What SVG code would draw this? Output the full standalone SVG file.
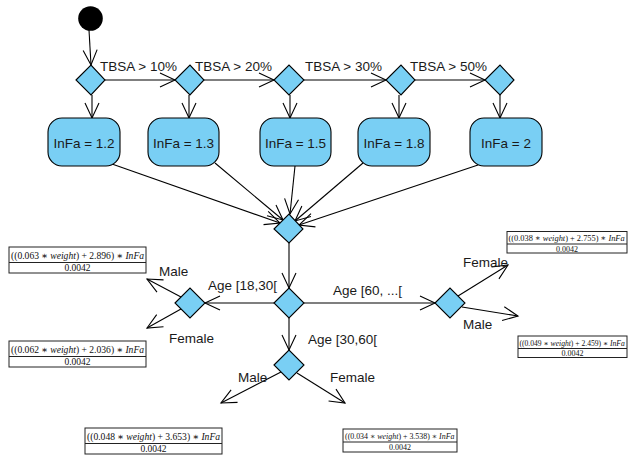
<svg xmlns="http://www.w3.org/2000/svg" width="628" height="455" viewBox="0 0 628 455">
<defs>
<marker id="arr" markerWidth="18" markerHeight="18" refX="15" refY="7" orient="auto" markerUnits="userSpaceOnUse" overflow="visible">
<path d="M0,0 L15,7 L0,14" fill="none" stroke="#000" stroke-width="1.1"/>
</marker>
<style>
.dia{fill:#79cff4;stroke:#000;stroke-width:1.1}
.box{fill:#79cff4;stroke:#000;stroke-width:1.1}
.lbl{font-family:"Liberation Sans",Arial,sans-serif;font-size:13.5px;fill:#1a1a1a}
.btxt{font-family:"Liberation Sans",Arial,sans-serif;font-size:13.5px;fill:#1a1a1a;text-anchor:middle}
.con line{stroke:#000;stroke-width:1.1;marker-end:url(#arr)}
.fbox{fill:#fff;stroke:#222;stroke-width:1}
.fdiv{stroke:#222;stroke-width:1}
.fnum{font-family:"Liberation Serif","DejaVu Serif",serif;fill:#111}
.fden{font-family:"Liberation Serif","DejaVu Serif",serif;fill:#111;text-anchor:middle}
.it{font-style:italic}
</style>
</defs>
<rect width="628" height="455" fill="#fff"/>

<g id="connectors" class="con">
<line x1="89" y1="30" x2="91" y2="65"/>
<line x1="105" y1="80" x2="175" y2="80"/>
<line x1="204" y1="80" x2="274" y2="80"/>
<line x1="304" y1="80" x2="386" y2="80"/>
<line x1="415" y1="80" x2="485" y2="80"/>
<line x1="92" y1="95" x2="92" y2="118"/>
<line x1="189" y1="95" x2="189" y2="118"/>
<line x1="290" y1="95" x2="290" y2="118"/>
<line x1="399" y1="95" x2="399" y2="118"/>
<line x1="500" y1="95" x2="500" y2="118"/>
<line x1="112" y1="164" x2="280" y2="223"/>
<line x1="215" y1="163" x2="283" y2="220"/>
<line x1="295" y1="166" x2="290" y2="214"/>
<line x1="363" y1="163" x2="295" y2="221"/>
<line x1="478" y1="165" x2="299" y2="225"/>
<line x1="289" y1="243" x2="289" y2="288"/>
<line x1="274" y1="303" x2="205" y2="303"/>
<line x1="304" y1="303" x2="435" y2="303"/>
<line x1="289" y1="318" x2="289" y2="350"/>
<line x1="181" y1="297" x2="147" y2="279"/>
<line x1="181" y1="309" x2="147" y2="328"/>
<line x1="458" y1="296" x2="508" y2="265"/>
<line x1="462" y1="307" x2="518" y2="316"/>
<line x1="281" y1="372" x2="221" y2="403"/>
<line x1="297" y1="373" x2="345" y2="403"/>
</g>

<g id="start"><circle cx="90.5" cy="18.5" r="12.3" fill="#000"/></g>

<g id="d1"><polygon class="dia" points="76,80 91,65 105,80 91,95"/></g>
<g id="d2"><polygon class="dia" points="175,80 190,65 204,80 190,95"/></g>
<g id="d3"><polygon class="dia" points="274,80 289,65 304,80 289,95"/></g>
<g id="d4"><polygon class="dia" points="386,80 401,65 415,80 401,95"/></g>
<g id="d5"><polygon class="dia" points="485,80 500,65 514,80 500,95"/></g>

<g id="lbl-tbsa">
<text class="lbl" x="100" y="71">TBSA &gt; 10%</text>
<text class="lbl" x="195" y="71">TBSA &gt; 20%</text>
<text class="lbl" x="305" y="71">TBSA &gt; 30%</text>
<text class="lbl" x="410" y="71">TBSA &gt; 50%</text>
</g>

<g id="b1"><rect class="box" x="48" y="118" width="72" height="48" rx="14"/><text class="btxt" x="84" y="148">InFa = 1.2</text></g>
<g id="b2"><rect class="box" x="148" y="118" width="71" height="48" rx="14"/><text class="btxt" x="183.5" y="148">InFa = 1.3</text></g>
<g id="b3"><rect class="box" x="260" y="118" width="71" height="48" rx="14"/><text class="btxt" x="295.5" y="148">InFa = 1.5</text></g>
<g id="b4"><rect class="box" x="358" y="118" width="72" height="48" rx="14"/><text class="btxt" x="394" y="148">InFa = 1.8</text></g>
<g id="b5"><rect class="box" x="470" y="118" width="72" height="48" rx="14"/><text class="btxt" x="506" y="148">InFa = 2</text></g>

<g id="merge"><polygon class="dia" points="274,229 289,214 303,229 289,243"/></g>
<g id="age"><polygon class="dia" points="274,303 289,288 304,303 289,318"/></g>
<g id="age1830"><polygon class="dia" points="175,303 190,288 205,303 190,318"/></g>
<g id="age60"><polygon class="dia" points="435,303 450,288 465,303 450,318"/></g>
<g id="age3060"><polygon class="dia" points="274,365 289,350 304,365 289,380"/></g>

<g id="lbl-age">
<text class="lbl" x="208" y="290">Age [18,30[</text>
<text class="lbl" x="333" y="295">Age [60, ...[</text>
<text class="lbl" x="308" y="344">Age [30,60[</text>
<text class="lbl" x="159" y="276">Male</text>
<text class="lbl" x="169" y="343">Female</text>
<text class="lbl" x="463" y="267">Female</text>
<text class="lbl" x="463" y="329">Male</text>
<text class="lbl" x="238" y="382">Male</text>
<text class="lbl" x="330" y="382">Female</text>
</g>

<g id="f1">
<rect class="fbox" x="9" y="247" width="137" height="26"/>
<line class="fdiv" x1="9" y1="262.5" x2="146" y2="262.5"/>
<text class="fnum" x="11" y="259" font-size="9.6">((0.063 ∗ <tspan class="it">weight</tspan>) + 2.896) ∗ <tspan class="it">InFa</tspan></text>
<text class="fden" x="77.5" y="271" font-size="9.5">0.0042</text>
</g>
<g id="f2">
<rect class="fbox" x="9" y="341" width="137" height="26"/>
<line class="fdiv" x1="9" y1="356.5" x2="146" y2="356.5"/>
<text class="fnum" x="11" y="353" font-size="9.6">((0.062 ∗ <tspan class="it">weight</tspan>) + 2.036) ∗ <tspan class="it">InFa</tspan></text>
<text class="fden" x="77.5" y="365" font-size="9.5">0.0042</text>
</g>
<g id="f3">
<rect class="fbox" x="507" y="231.5" width="120" height="21.5"/>
<line class="fdiv" x1="507" y1="244" x2="627" y2="244"/>
<text class="fnum" x="508.5" y="241" font-size="8.4">((0.038 ∗ <tspan class="it">weight</tspan>) + 2.755) ∗ <tspan class="it">InFa</tspan></text>
<text class="fden" x="567" y="251.5" font-size="8">0.0042</text>
</g>
<g id="f4">
<rect class="fbox" x="518" y="336" width="109" height="21.5"/>
<line class="fdiv" x1="518" y1="348.5" x2="627" y2="348.5"/>
<text class="fnum" x="519.5" y="345.5" font-size="7.6">((0.049 ∗ <tspan class="it">weight</tspan>) + 2.459) ∗ <tspan class="it">InFa</tspan></text>
<text class="fden" x="572.5" y="356" font-size="8">0.0042</text>
</g>
<g id="f5">
<rect class="fbox" x="85" y="428" width="137" height="26"/>
<line class="fdiv" x1="85" y1="443.5" x2="222" y2="443.5"/>
<text class="fnum" x="87" y="440" font-size="9.6">((0.048 ∗ <tspan class="it">weight</tspan>) + 3.653) ∗ <tspan class="it">InFa</tspan></text>
<text class="fden" x="153.5" y="452" font-size="9.5">0.0042</text>
</g>
<g id="f6">
<rect class="fbox" x="343" y="429" width="114" height="23"/>
<line class="fdiv" x1="343" y1="442" x2="457" y2="442"/>
<text class="fnum" x="345" y="439" font-size="7.9">((0.034 ∗ <tspan class="it">weight</tspan>) + 3.538) ∗ <tspan class="it">InFa</tspan></text>
<text class="fden" x="400" y="450" font-size="8">0.0042</text>
</g>
</svg>
